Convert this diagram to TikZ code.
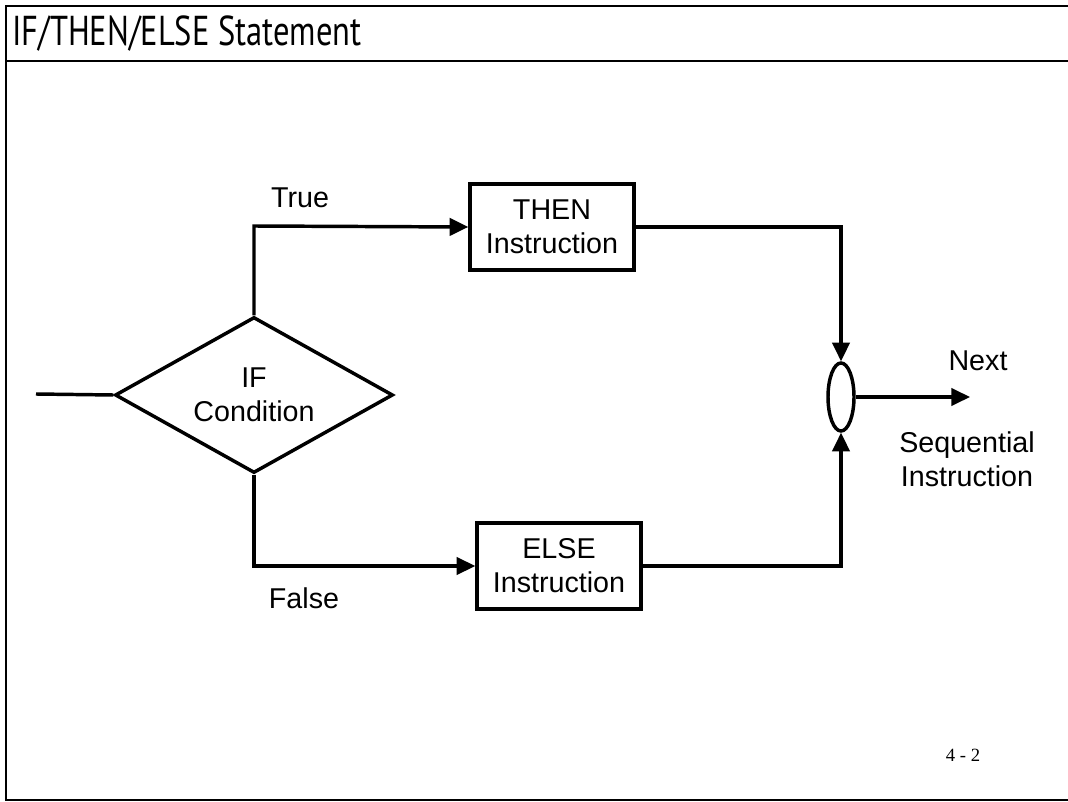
\documentclass[tikz,border=0pt]{standalone}
\usepackage{fontspec}
\setmainfont{Liberation Sans}
\newfontfamily\titlefont{PT Sans}
\newfontfamily\pagefont{Liberation Serif}
\usetikzlibrary{shapes.geometric,arrows.meta}
\tikzset{
  frameline/.style={line width=1.5pt},
  conn/.style={line width=2.6pt},
  arr/.style={conn,-{Triangle[length=14pt,width=13pt]}},
  diag/.style={font=\fontsize{21.5}{25.5}\selectfont, align=center},
  decision/.style={diag,draw,line width=2.6pt,shape=diamond,aspect=1.78,minimum width=208.5pt,minimum height=117pt,inner sep=0pt},
  instr/.style={diag,draw,line width=2.6pt,rectangle,minimum width=123pt,minimum height=64.5pt,inner sep=0pt},
  joinnode/.style={draw,line width=2.6pt,ellipse,minimum width=19.5pt,minimum height=51pt,inner sep=0pt},
  lbl/.style={diag}
}
\begin{document}
\begin{tikzpicture}[x=0.75pt,y=-0.75pt]
\useasboundingbox (0,0) rectangle (1068,802);
% frame
\draw[frameline] (1070,6) -- (6,6) -- (6,800) -- (1070,800);
\draw[frameline] (6,61) -- (1070,61);
\node[anchor=base west, inner sep=0pt, font=\titlefont\fontsize{29}{34}\selectfont] (title) at (12,46) {\scalebox{0.84}[1.08]{IF/THEN/ELSE Statement}};
% nodes
\node[decision] (if) at (254,395) {IF\\Condition};
\node[instr] (then) at (552,227) {THEN\\Instruction};
\node[instr] (else) at (559,566) {ELSE\\Instruction};
\node[joinnode] (j) at (841,397) {};
\coordinate (in) at (36,394);
\coordinate (out) at (970,397);
\coordinate (tc) at (254,226);
\coordinate (fc) at (254,566);
% connectors
\draw[conn] (in) -- (if.west);
\draw[arr] (if.north) -- (tc) -- (then.west);
\draw[arr] (if.south) -- (fc) -- (else.west);
\draw[arr] (then.east) -| (j.north);
\draw[arr] (else.east) -| (j.south);
\draw[arr] (j.east) -- (out);
% labels
\node[lbl] (true) at (300,198) {True};
\node[lbl] (false) at (304,598) {False};
\node[lbl] (next) at (978,361) {Next};
\node[lbl] (seq) at (967,459) {Sequential\\Instruction};
\node[font=\pagefont\fontsize{14}{16}\selectfont] (pg) at (963,755) {4 - 2};
\end{tikzpicture}
\end{document}
